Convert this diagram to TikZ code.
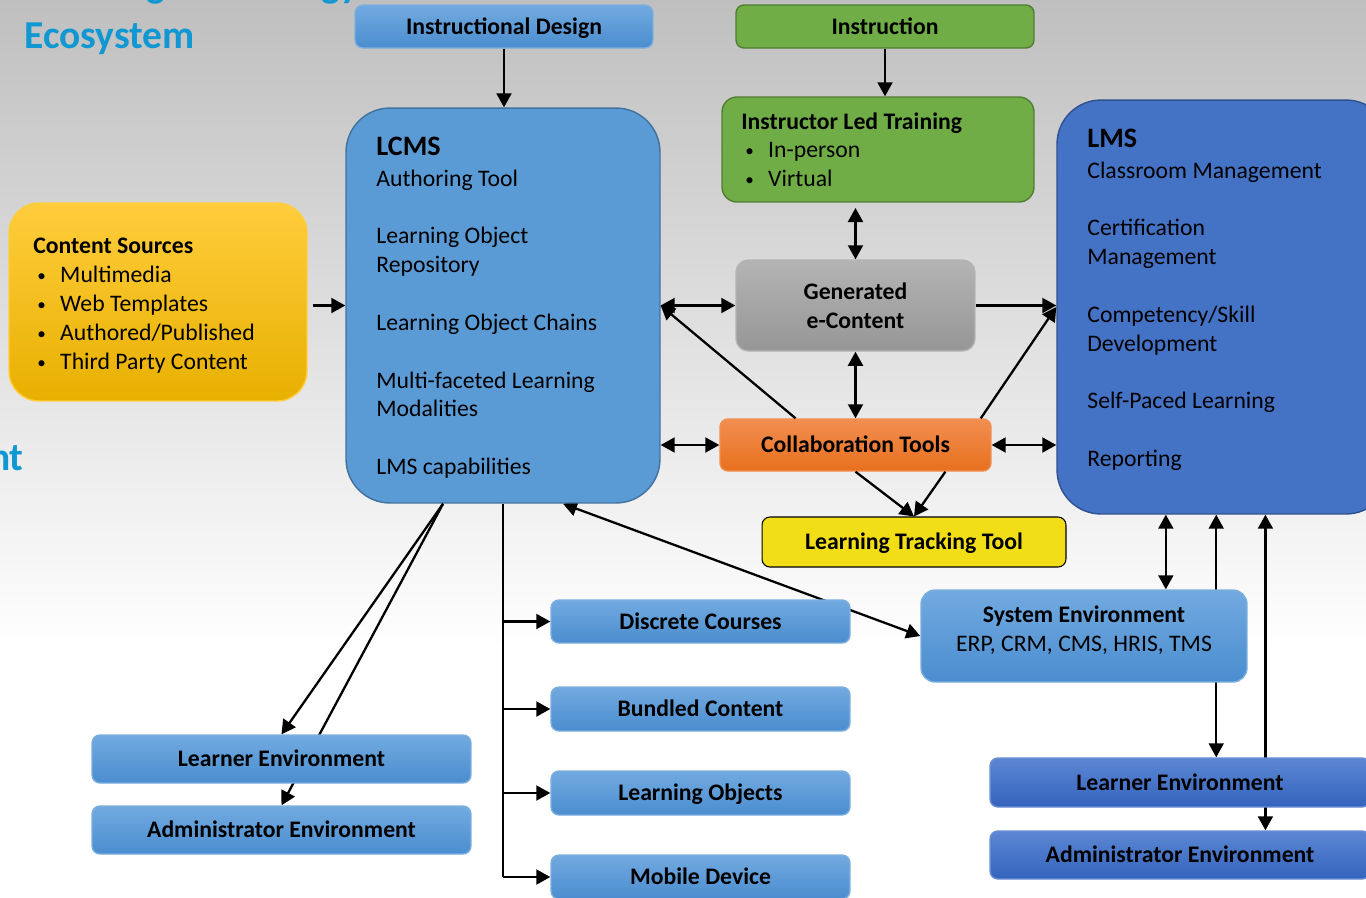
\documentclass[tikz,border=0pt]{standalone}
\usepackage{fontspec}
\setmainfont{Carlito}
\usepackage{xcolor}
\usepackage{tikz}
\usetikzlibrary{arrows.meta}
\usetikzlibrary{calc}
\definecolor{titleblue}{RGB}{17,152,210}
\definecolor{blueT}{RGB}{114,170,224}
\definecolor{blueB}{RGB}{74,141,207}
\definecolor{lcmsfill}{RGB}{91,155,213}
\definecolor{lcmsline}{RGB}{65,113,156}
\definecolor{lmsfill}{RGB}{68,114,196}
\definecolor{lmsline}{RGB}{47,82,143}
\definecolor{dblueT}{RGB}{92,135,212}
\definecolor{dblueB}{RGB}{52,99,188}
\definecolor{grn}{RGB}{112,173,71}
\definecolor{grnline}{RGB}{80,126,50}
\definecolor{goldT}{RGB}{255,205,60}
\definecolor{goldB}{RGB}{232,176,0}
\definecolor{greyT}{RGB}{180,180,180}
\definecolor{greyB}{RGB}{150,150,150}
\definecolor{orangeT}{RGB}{242,142,80}
\definecolor{orangeB}{RGB}{232,112,30}
\definecolor{ltyellow}{RGB}{242,222,22}
\pgfdeclarelayer{bg}
\pgfdeclarelayer{back}
\pgfsetlayers{bg,back,main}
\newcommand\bul{\hspace*{2.3pt}\makebox[13pt][l]{\raisebox{0.6pt}{\scalebox{0.72}{\textbullet}}}}
\tikzset{box/.style={rounded corners=4.5pt, line width=0.8pt, inner sep=0pt, align=center, text=black, font=\bfseries\fontsize{13.5}{16.4}\selectfont},
  sl/.style={text height=11pt, text depth=2.3pt},
  bluebox/.style={box, sl, draw=lcmsfill!80!white, top color=blueT, bottom color=blueB},
  dbluebox/.style={box, sl, draw=lmsfill!80!white, top color=dblueT, bottom color=dblueB},
  greenbox/.style={box, draw=grnline, fill=grn},
  txt/.style={anchor=north west, align=left, inner sep=0pt, text=black, font=\fontsize{13.5}{16.4}\selectfont},
  title/.style={text=titleblue, inner sep=0pt, font=\bfseries\fontsize{22.5}{26}\selectfont},
  arr/.style={line width=1.3pt, -{Triangle[length=8pt,width=8.5pt]}},
  darr/.style={line width=1.3pt, {Triangle[length=8pt,width=8.5pt]}-{Triangle[length=8pt,width=8.5pt]}}}

\begin{document}
\begin{tikzpicture}[x=0.02cm, y=-0.02cm]
\useasboundingbox (0,0) rectangle (1366,897);
\begin{pgfonlayer}{bg}
  \fill[white] (0,0) rectangle (1366,897);
  \shade[top color=black!25, bottom color=white] (0,0) rectangle (1366,650);
\end{pgfonlayer}
% titles
\node[title, anchor=base west] (ttlA) at (24,-3) {Learning Technology};
\node[title, anchor=base west] (ttlB) at (24,48) {Ecosystem};
\node[title, anchor=base east] (ttlC) at (24,470) {nt};
% top row
\node[bluebox, minimum width=5.96cm, minimum height=0.86cm] (idesign) at (504,26.5) {Instructional Design};
\node[greenbox, sl, minimum width=5.96cm, minimum height=0.86cm] (instr) at (885,26.5) {Instruction};
% LCMS
\node[box, rounded corners=25pt, draw=lcmsline, fill=lcmsfill, minimum width=6.28cm, minimum height=7.9cm] (lcms) at (503,305.5) {};
\node[txt] (lcmstxt) at (376,137) {{\bfseries\fontsize{16}{16.4}\selectfont LCMS}\\[1pt]Authoring Tool\\[16.4pt]Learning Object\\Repository\\[16.4pt]Learning Object Chains\\[16.4pt]Multi-faceted Learning\\Modalities\\[16.4pt]LMS capabilities};
% instructor led
\node[greenbox, rounded corners=8.5pt, minimum width=6.24cm, minimum height=2.1cm] (ilt) at (878,149.5) {};
\node[txt] (ilttxt) at (741,112) {\textbf{Instructor Led Training}\\\bul In-person\\\bul Virtual};
% LMS
\node[box, rounded corners=25pt, draw=lmsline, fill=lmsfill, minimum width=6.66cm, minimum height=8.28cm] (lms) at (1223.5,307) {};
\node[txt] (lmstxt) at (1087,129) {{\bfseries\fontsize{16}{16.4}\selectfont LMS}\\[1pt]Classroom Management\\[16.4pt]Certification\\Management\\[16.4pt]Competency/Skill\\Development\\[16.4pt]Self-Paced Learning\\[16.4pt]Reporting};
% content sources
\node[box, rounded corners=17pt, draw=goldT, top color=goldT, bottom color=goldB, minimum width=5.96cm, minimum height=3.96cm] (csrc) at (158,302) {};
\node[txt] (csrctxt) at (33,238) {\textbf{Content Sources}\\\bul Multimedia\\\bul Web Templates\\\bul Authored/Published\\\bul Third Party Content};
% middle
\node[box, rounded corners=7pt, draw=greyT, top color=greyT, bottom color=greyB, minimum width=4.78cm, minimum height=1.82cm] (gen) at (855.5,305.5) {Generated\\e-Content};
\node[box, sl, draw=orangeT, top color=orangeT, bottom color=orangeB, minimum width=5.42cm, minimum height=1.04cm] (collab) at (855.5,445) {Collaboration Tools};
\node[box, sl, draw=black, line width=0.6pt, fill=ltyellow, minimum width=6.08cm, minimum height=1cm] (ltt) at (914,542) {Learning Tracking Tool};
\node[box, rounded corners=8pt, draw=lcmsfill!80!white, top color=blueT, bottom color=blueB, minimum width=6.52cm, minimum height=1.84cm] (sysenv) at (1084,636) {};
\node[box, anchor=center] (sysenvtxt) at (1084,630) {System Environment\\\mdseries ERP, CRM, CMS, HRIS, TMS};
% content types
\node[bluebox, minimum width=5.98cm, minimum height=0.86cm] (discrete) at (700.5,621.5) {Discrete Courses};
\node[bluebox, minimum width=5.98cm, minimum height=0.88cm] (bundled) at (700.5,709) {Bundled Content};
\node[bluebox, minimum width=5.98cm, minimum height=0.88cm] (lobj) at (700.5,793) {Learning Objects};
\node[bluebox, minimum width=5.98cm, minimum height=0.88cm] (mobile) at (700.5,877) {Mobile Device};
% environments
\node[bluebox, minimum width=7.58cm, minimum height=0.96cm] (learnL) at (281.5,759) {Learner Environment};
\node[bluebox, minimum width=7.58cm, minimum height=0.96cm] (adminL) at (281.5,830) {Administrator Environment};
\node[dbluebox, minimum width=7.6cm, minimum height=0.98cm] (learnR) at (1180,782.5) {Learner Environment};
\node[dbluebox, minimum width=7.6cm, minimum height=0.96cm] (adminR) at (1180,855) {Administrator Environment};

% connectors
\draw[arr] (idesign.south) -- (idesign.south |- lcms.north);
\draw[arr] (instr.south) -- (instr.south |- ilt.north);
\draw[darr, shorten <=3pt] (gen.north |- ilt.south) -- (gen.north);
\draw[darr] (lcms.east) -- (gen.west);
\draw[arr] (gen.east) -- (gen.east -| lms.west);
\draw[darr] (gen.south) -- (collab.north);
\draw[darr] (lcms.east |- collab.west) -- (collab.west);
\draw[darr] (collab.east) -- (collab.east -| lms.west);
\draw[arr] ($(collab.north west)!0.28!(collab.north east)$) -- (lcms.east);
\draw[arr] ($(collab.north west)!0.96!(collab.north east)$) -- (lms.west);
\draw[arr] (collab.south) -- (ltt.north);
\draw[arr] ($(collab.south west)!0.83!(collab.south east)$) -- (ltt.north);
\draw[arr, shorten <=3pt] (lcms.west -| csrc.east) -- (lcms.west);
\draw[line width=0.7pt] (lcms.south) -- (lcms.south |- mobile.west);
\foreach \b in {discrete,bundled,lobj,mobile}
  \draw[arr] (lcms.south |- \b.west) -- (\b.west);
\coordinate (lp) at ($(lcms.south west)!0.31!(lcms.south east)$);
\draw[arr] (lp) -- (learnL.north);
\coordinate (s1) at ($(sysenv.north west)!0.75!(sysenv.north east)$);
\coordinate (s2) at ($(learnR.north west)!0.595!(learnR.north east)$);
\coordinate (s3) at ($(adminR.north west)!0.724!(adminR.north east)$);
\draw[darr] (s1 |- lms.south) -- (s1);
\begin{pgfonlayer}{back}
  \draw[darr] ($(lcms.south west)!0.69!(lcms.south east)$) -- (sysenv.west);
  \draw[arr] (lp) -- (adminL.north);
  \draw[darr] (s2 |- lms.south) -- (s2);
  \draw[darr] (s3 |- lms.south) -- (s3);
\end{pgfonlayer}
\end{tikzpicture}
\end{document}
